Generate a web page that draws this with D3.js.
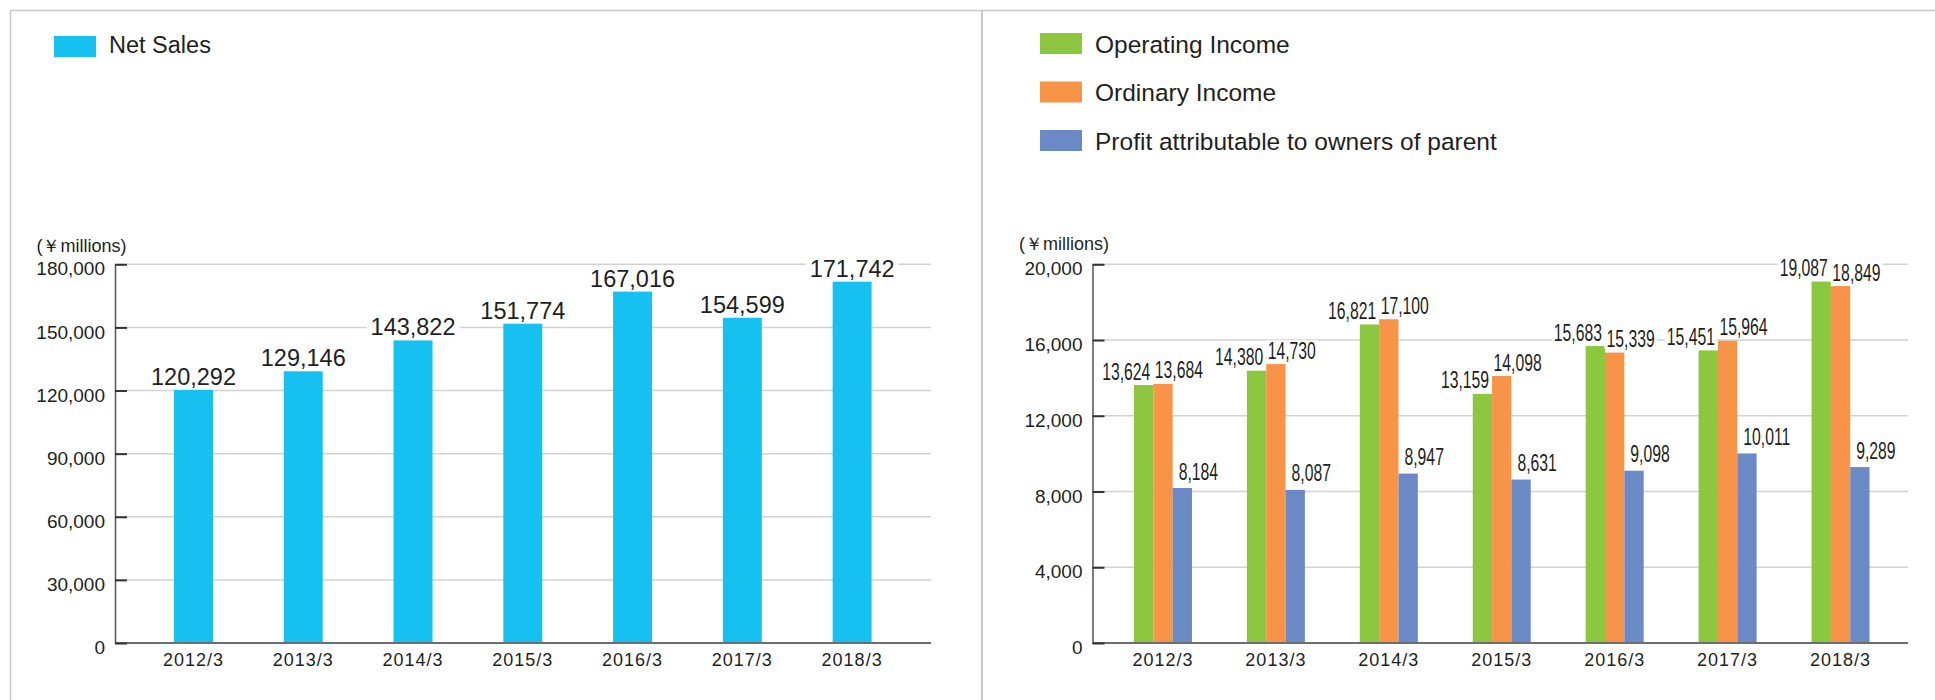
<!DOCTYPE html>
<html>
<head>
<meta charset="utf-8">
<script src="https://cdn.jsdelivr.net/npm/d3@7"></script>
<style>
  html, body { margin: 0; padding: 0; background: #fff; }
  svg { display: block; font-family: "Liberation Sans", Arial, Helvetica, sans-serif; }
</style>
</head>
<body>
<svg id="chart" width="1935" height="700"></svg>
<script>
// Fiscal years (ending March)
const categories = ['2012/3', '2013/3', '2014/3', '2015/3', '2016/3', '2017/3', '2018/3'];

// Net sales, ¥ millions
const netSales = [120292, 129146, 143822, 151774, 167016, 154599, 171742];

// Income figures, ¥ millions
const operatingIncome = [13624, 14380, 16821, 13159, 15683, 15451, 19087];
const ordinaryIncome  = [13684, 14730, 17100, 14098, 15339, 15964, 18849];
const profitToOwners  = [8184, 8087, 8947, 8631, 9098, 10011, 9289];

// Axis ticks
const salesTicks  = [0, 30000, 60000, 90000, 120000, 150000, 180000];
const incomeTicks = [0, 4000, 8000, 12000, 16000, 20000];

const seriesNames = ['Operating Income', 'Ordinary Income', 'Profit attributable to owners of parent'];
const seriesColors = ['#8dc63f', '#f79447', '#6b89c5'];
const salesColor = '#16c1f1';

const TEXT = '#231f20';
const GRID = '#d2d2d2';
const fmt = d3.format(',');

const svg = d3.select('#chart');

// Frame: top rule, left rule and divider between the two panels
svg.append('line').attr('x1', 10.5).attr('x2', 1935).attr('y1', 10.5).attr('y2', 10.5)
  .attr('stroke', '#cacaca').attr('stroke-width', 1.5);
svg.append('line').attr('x1', 10.5).attr('x2', 10.5).attr('y1', 10.5).attr('y2', 700)
  .attr('stroke', '#cacaca').attr('stroke-width', 1.5);
svg.append('line').attr('x1', 982).attr('x2', 982).attr('y1', 10.5).attr('y2', 700)
  .attr('stroke', '#c8c8cc').attr('stroke-width', 2);

const yTop = 264.3, yBase = 643;

// Shared helpers -------------------------------------------------------
function drawFrame(g, y, ticks, axisX, rightX, unitX, unitY) {
  // gridlines
  g.append('g').selectAll('line').data(ticks.filter(t => t > 0)).join('line')
    .attr('x1', axisX).attr('x2', rightX)
    .attr('y1', d => y(d)).attr('y2', d => y(d))
    .attr('stroke', GRID).attr('stroke-width', 1.5);

  // unit caption
  g.append('text').attr('x', unitX).attr('y', unitY)
    .attr('font-size', 18).attr('fill', TEXT).text('(￥millions)');
}

function drawAxes(g, y, ticks, axisX, rightX, x) {
  // baseline
  g.append('line').attr('x1', axisX).attr('x2', rightX)
    .attr('y1', yBase).attr('y2', yBase)
    .attr('stroke', '#6e6e6e').attr('stroke-width', 2);

  // value axis with short inward ticks
  const ya = g.append('g').attr('transform', `translate(${axisX},0)`)
    .call(d3.axisLeft(y).tickValues(ticks).tickFormat(fmt)
      .tickSize(-12).tickSizeOuter(0).tickPadding(10));
  ya.select('.domain').attr('stroke', '#555').attr('stroke-width', 1.5);
  ya.selectAll('.tick line').attr('stroke', '#333').attr('stroke-width', 2);
  ya.selectAll('.tick text').attr('font-size', 19).attr('fill', TEXT)
    .attr('font-family', '"Liberation Sans", Arial, sans-serif').attr('dy', '0.56em');

  // category labels
  const xa = g.append('g').attr('transform', `translate(0,${yBase})`)
    .call(d3.axisBottom(x).tickSize(0).tickPadding(10));
  xa.select('.domain').remove();
  xa.selectAll('.tick text').attr('font-size', 18).attr('fill', TEXT)
    .attr('letter-spacing', 1)
    .attr('font-family', '"Liberation Sans", Arial, sans-serif');
}

// Value label with a white backing so gridlines break behind it
function valueLabel(g, x, y, text, opts) {
  const size = opts.size, sx = opts.scaleX || 1;
  const lg = g.append('g').attr('transform', `translate(${x},${y}) scale(${sx},1)`);
  const bg = lg.append('rect').attr('fill', '#fff');
  const t = lg.append('text').attr('x', 0).attr('y', 0)
    .attr('font-size', size).attr('fill', TEXT)
    .attr('text-anchor', opts.anchor || 'middle').text(text);
  const bb = t.node().getBBox();
  const pad = opts.pad != null ? opts.pad : 4;
  bg.attr('x', bb.x - pad / sx).attr('width', bb.width + 2 * pad / sx)
    .attr('y', -size * 0.78).attr('height', size * 0.86);
}

// Legend entry
function legendItem(g, x, y, color, label, size, baseOff) {
  g.append('rect').attr('x', x).attr('y', y).attr('width', 42).attr('height', 21).attr('fill', color);
  g.append('text').attr('x', x + 55).attr('y', y + baseOff).attr('font-size', size)
    .attr('fill', TEXT).text(label);
}

// Left panel: Net Sales -------------------------------------------------
{
  const g = svg.append('g');
  const axisX = 115, rightX = 931;
  const y = d3.scaleLinear().domain([0, 180000]).range([yBase, yTop]);
  const x = d3.scaleBand().domain(categories).range([138.6, 907]);
  const barW = x.bandwidth() * 0.355;

  legendItem(g, 54, 36, salesColor, 'Net Sales', 23.5, 17);
  drawFrame(g, y, salesTicks, axisX, rightX, 36.5, 251.5);

  g.append('g').selectAll('rect').data(netSales).join('rect')
    .attr('x', (d, i) => x(categories[i]) + (x.bandwidth() - barW) / 2)
    .attr('width', barW)
    .attr('y', d => y(d))
    .attr('height', d => yBase - y(d))
    .attr('fill', salesColor);

  const lab = g.append('g');
  netSales.forEach((d, i) => {
    valueLabel(lab, x(categories[i]) + x.bandwidth() / 2, y(d) - 5, fmt(d),
      { size: 23.5, anchor: 'middle', pad: 4 });
  });

  drawAxes(g, y, salesTicks, axisX, rightX, x);
}

// Right panel: income -----------------------------------------------------
{
  const g = svg.append('g');
  const axisX = 1092.5, rightX = 1908;
  const y = d3.scaleLinear().domain([0, 20000]).range([yBase, yTop]);
  const x0 = d3.scaleBand().domain(categories).range([1106.5, 1897]);
  const groupW = 58;
  const x1 = d3.scaleBand().domain(seriesNames).range([0, groupW]);
  const allSeries = [operatingIncome, ordinaryIncome, profitToOwners];

  seriesNames.forEach((name, k) =>
    legendItem(g, 1040, 33 + k * 48.5, seriesColors[k], name, 24.5, 19.5));
  drawFrame(g, y, incomeTicks, axisX, rightX, 1019, 250);

  const groups = g.append('g').selectAll('g').data(categories).join('g')
    .attr('transform', c => `translate(${x0(c) + (x0.bandwidth() - groupW) / 2},0)`);

  groups.selectAll('rect')
    .data((c, i) => seriesNames.map((s, k) => ({ s, k, v: allSeries[k][i] })))
    .join('rect')
    .attr('x', d => x1(d.s))
    .attr('width', x1.bandwidth())
    .attr('y', d => y(d.v))
    .attr('height', d => yBase - y(d.v))
    .attr('fill', d => seriesColors[d.k]);

  const lab = g.append('g');
  categories.forEach((c, i) => {
    const gx = x0(c) + (x0.bandwidth() - groupW) / 2;
    const bw = x1.bandwidth();
    const opts = { size: 23.5, scaleX: 0.67, pad: 2 };
    // operating income: right-aligned to the green bar's right edge
    valueLabel(lab, gx + x1(seriesNames[0]) + bw - 3, y(operatingIncome[i]) - 5.5,
      fmt(operatingIncome[i]), Object.assign({ anchor: 'end' }, opts));
    // ordinary income: starts at the orange bar's left edge
    valueLabel(lab, gx + x1(seriesNames[1]) + 1.5, y(ordinaryIncome[i]) - 5.5,
      fmt(ordinaryIncome[i]), Object.assign({ anchor: 'start' }, opts));
    // profit: starts just inside the blue bar
    valueLabel(lab, gx + x1(seriesNames[2]) + 6, y(profitToOwners[i]) - 8.5,
      fmt(profitToOwners[i]), Object.assign({ anchor: 'start' }, opts));
  });

  drawAxes(g, y, incomeTicks, axisX, rightX, x0);
}
</script>
</body>
</html>
